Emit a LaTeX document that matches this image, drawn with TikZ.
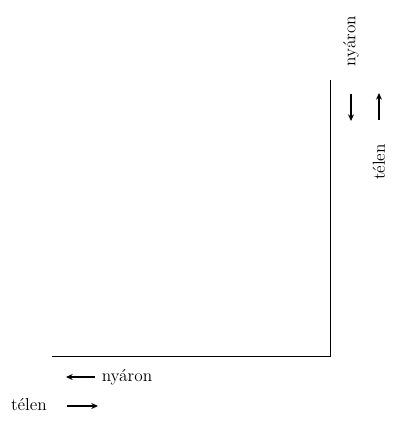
\documentclass[tikz,border=0pt]{standalone}
\usetikzlibrary{arrows.meta}
\begin{document}
\begin{tikzpicture}[x=0.75pt, y=-0.75pt, font=\fontsize{13}{16}\selectfont,
  arr/.style={-{Stealth[length=5pt,width=4.5pt]}, line width=0.8pt}]
\useasboundingbox (0,0) rectangle (397,426);
\coordinate (top) at (330,80);
\coordinate (corner) at (330,356);
\coordinate (left) at (52,356);
\draw[line width=0.7pt] (top) -- (corner) -- (left);
\node[rotate=90] (ny1) at (351,41) {nyáron};
\node[rotate=90] (tel1) at (379,162) {télen};
\coordinate (a1) at (351,94);
\coordinate (b1) at (351,121);
\coordinate (a2) at (379,120);
\coordinate (b2) at (379,93);
\draw[arr] (a1) -- (b1);
\draw[arr] (a2) -- (b2);
\node (ny2) at (127,377) {nyáron};
\node (tel2) at (29,405) {télen};
\coordinate (a3) at (95,377);
\coordinate (b3) at (66,377);
\coordinate (a4) at (67,406);
\coordinate (b4) at (98,406);
\draw[arr] (a3) -- (b3);
\draw[arr] (a4) -- (b4);
\end{tikzpicture}
\end{document}
